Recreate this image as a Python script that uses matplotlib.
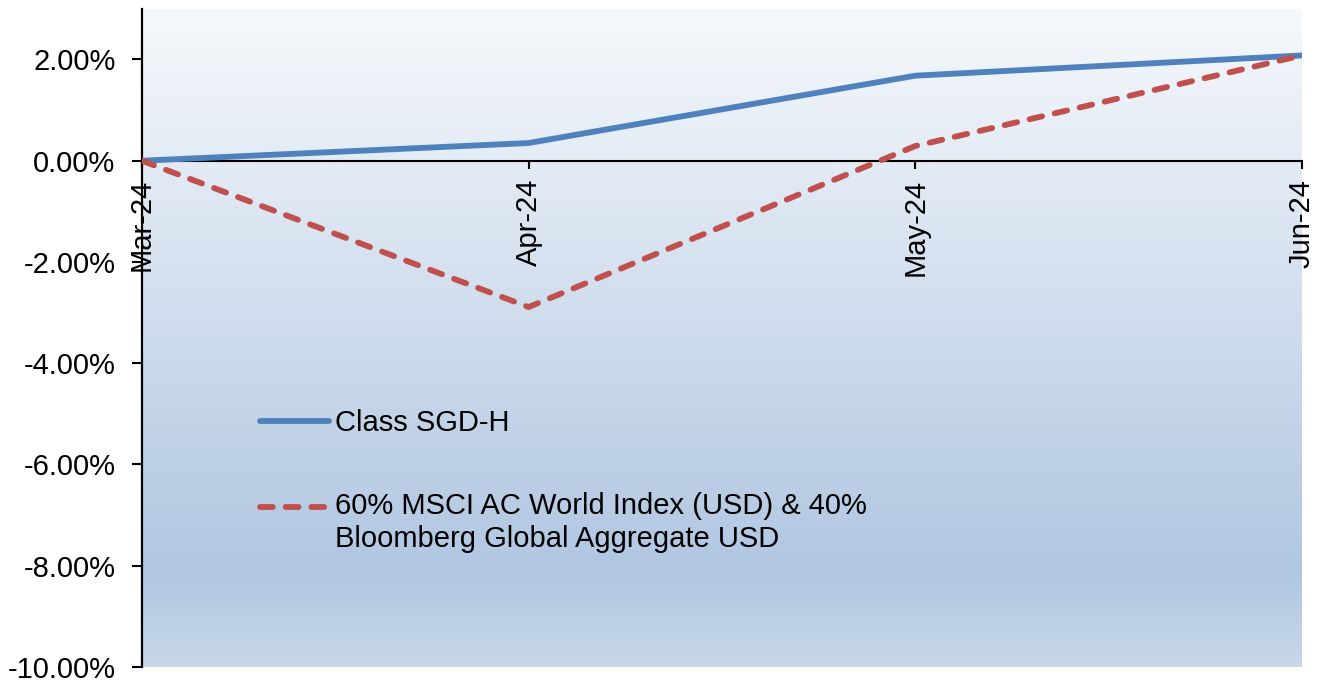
import numpy as np
import matplotlib
matplotlib.use("Agg")
import matplotlib.pyplot as plt
from matplotlib.colors import LinearSegmentedColormap
from matplotlib.ticker import FuncFormatter
from matplotlib.legend_handler import HandlerLine2D

plt.rcParams['font.family'] = ['Liberation Sans', 'DejaVu Sans']

# Cumulative performance (%)
months = ["Mar-24", "Apr-24", "May-24", "Jun-24"]
class_sgd_h = [0.00, 0.35, 1.68, 2.08]
benchmark = [0.00, -2.89, 0.29, 2.08]
series_labels = ["Class SGD-H",
                 "60% MSCI AC World Index (USD) & 40%\nBloomberg Global Aggregate USD"]
y_ticks = [-10, -8, -6, -4, -2, 0, 2]

FS = 21


class FirstLineHandler(HandlerLine2D):
    """Line handle raised to sit beside the first line of a two-line label."""

    def __init__(self, shift, **kw):
        super().__init__(**kw)
        self.shift = shift

    def create_artists(self, legend, orig_handle, xdescent, ydescent,
                       width, height, fontsize, trans):
        arts = super().create_artists(legend, orig_handle, xdescent, ydescent,
                                      width, height, fontsize, trans)
        for a in arts:
            a.set_ydata(np.asarray(a.get_ydata()) + self.shift)
        return arts


fig = plt.figure(figsize=(13.27, 6.82), dpi=100)
ax = fig.add_axes([0.107, 0.022, 0.874, 0.965])

# Vertical gradient fill of the plot area
grad = LinearSegmentedColormap.from_list(
    "bg", [(0.0, (200/255, 216/255, 234/255)),
           (0.14, (176/255, 198/255, 225/255)),
           (1.0, (246/255, 249/255, 252/255))])
ax.imshow(np.linspace(0, 1, 256).reshape(-1, 1), cmap=grad, aspect="auto",
          extent=[0, 3, -10, 3], origin="lower", zorder=0, interpolation="bilinear")

x = np.arange(len(months))
l1, = ax.plot(x, class_sgd_h, color="#4F81BD", lw=4.2, solid_capstyle="round",
              label=series_labels[0], zorder=3)
l2, = ax.plot(x, benchmark, color="#C0504D", lw=4.2, dashes=(2.2, 2.2),
              dash_capstyle="round", label=series_labels[1], zorder=3)

ax.set_xlim(0, 3)
ax.set_ylim(-10, 3)

for s in ("top", "right"):
    ax.spines[s].set_visible(False)
ax.spines["bottom"].set_position(("data", 0))
ax.spines["bottom"].set_linewidth(1.5)
ax.spines["left"].set_linewidth(1.6)
ax.spines["bottom"].set_zorder(2)

ax.set_xticks(x)
ax.set_xticklabels(months)
ax.set_yticks(y_ticks)
ax.yaxis.set_major_formatter(FuncFormatter(lambda v, p: f"{v:.2f}%"))

ax.tick_params(axis="y", direction="out", length=7, width=1.5, pad=12, labelsize=FS)
ax.tick_params(axis="x", direction="out", length=6, width=1.5, pad=7, labelsize=FS,
               labelrotation=90)

leg = ax.legend(handles=[l1, l2], loc="upper left", bbox_to_anchor=(0.092, 0.41),
                frameon=False, fontsize=FS, handlelength=2.35, handletextpad=0.22,
                labelspacing=1.9, borderaxespad=0,
                handler_map={l2: FirstLineHandler(shift=12.0)})
leg.get_texts()[1].set_linespacing(1.2)

fig.savefig("out.png", dpi=100)
